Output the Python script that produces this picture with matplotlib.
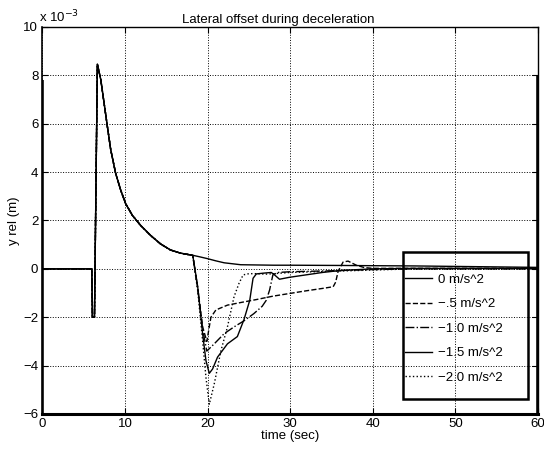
import numpy as np
import matplotlib
matplotlib.use("Agg")
import matplotlib.pyplot as plt
from matplotlib.patches import Rectangle

plt.rcParams['font.family'] = ['Liberation Sans', 'DejaVu Sans']

# Shared part of all runs (time in s, offset in 1e-3 m)
t_pre = [0, 5.98, 6.05, 6.3, 6.65, 7.06, 7.46, 7.86, 8.27, 8.87, 9.48, 10.08,
         10.89, 11.9, 13.1, 14.3, 15.5, 16.7, 17.5, 18.2]
y_pre = [0, 0, -2.0, -2.0, 8.46, 7.83, 6.86, 5.89, 4.92, 3.94, 3.25, 2.69,
         2.21, 1.79, 1.38, 1.03, 0.78, 0.65, 0.60, 0.56]

# 0 m/s^2
t_a0 = [19, 20, 21, 22, 24, 26, 28, 30, 36, 40, 45, 50, 55, 60]
y_a0 = [0.5, 0.42, 0.33, 0.25, 0.17, 0.16, 0.15, 0.15, 0.14, 0.13, 0.12, 0.10, 0.08, 0.06]

# -0.5 m/s^2
t_a05 = [18.8, 19.4, 19.9, 20.4, 21.0, 22.4, 24.2, 25.9, 27.9, 29.9, 31.9, 33.9,
         35.2, 35.5, 35.8, 36.4, 37.0, 38.0, 39.0, 40.0, 45, 50, 55, 60]
y_a05 = [-0.8, -2.4, -3.0, -2.0, -1.7, -1.5, -1.38, -1.27, -1.13, -1.02, -0.91, -0.81,
         -0.74, -0.55, -0.1, 0.28, 0.32, 0.15, 0.05, 0.02, 0.02, 0.02, 0.02, 0.02]

# -1.0 m/s^2
t_a10 = [18.8, 19.4, 19.9, 20.8, 22.0, 23.2, 24.4, 25.6, 26.6, 27.1, 27.5, 27.9,
         28.5, 30, 35, 40, 45, 50, 55, 60]
y_a10 = [-0.8, -2.5, -3.4, -3.1, -2.68, -2.4, -2.15, -1.85, -1.55, -1.3, -0.88, -0.25,
         -0.15, -0.12, -0.08, -0.03, 0.0, 0.0, 0.0, 0.0]

# -1.5 m/s^2
t_a15 = [18.8, 19.4, 19.8, 20.2, 20.6, 21.2, 22.4, 23.6, 24.4, 25.1, 25.5, 25.9,
         26.7, 27.7, 28.1, 28.7, 29.9, 31.9, 33.9, 36.0, 40.0, 45, 50, 55, 60]
y_a15 = [-0.74, -2.7, -3.8, -4.32, -4.14, -3.65, -3.1, -2.8, -2.1, -1.3, -0.39, -0.21,
         -0.18, -0.15, -0.25, -0.43, -0.35, -0.25, -0.15, -0.07, 0.0, 0.02, 0.02, 0.02, 0.02]

# -2.0 m/s^2
t_a20 = [18.8, 19.4, 19.8, 20.2, 20.8, 21.6, 22.4, 23.2, 23.8, 24.3, 25, 26, 27, 28,
         30, 35, 40, 45, 50, 55, 60]
y_a20 = [-0.9, -3.0, -4.5, -5.6, -4.76, -3.4, -2.4, -1.15, -0.6, -0.25, -0.2, -0.2,
         -0.22, -0.2, -0.15, -0.1, -0.05, 0, 0, 0, 0]

labels = ['0 m/s^2', '\u2212.5 m/s^2', '\u22121.0 m/s^2', '\u22121.5 m/s^2', '\u22122.0 m/s^2']
styles = ['-', '--', '-.', '-', ':']

# thick vertical marks at the plot edges
edge_t = [0, 60]
edge_top = [7.8, 8.0]

fig = plt.figure(figsize=(5.44, 4.49), dpi=100)
ax = fig.add_axes([0.078, 0.078, 0.911, 0.862])

series = [(t_a0, y_a0), (t_a05, y_a05), (t_a10, y_a10), (t_a15, y_a15), (t_a20, y_a20)]
handles = []
for (ts, ys), lab, ls in zip(series, labels, styles):
    tt = np.array(t_pre + ts)
    yy = np.array(y_pre + ys)
    h, = ax.plot(tt, yy, color='black', linestyle=ls, linewidth=1.0, label=lab)
    handles.append(h)

for et, etop in zip(edge_t, edge_top):
    ax.plot([et, et], [-6, etop], color='black', linewidth=2.6, solid_capstyle='butt')

ax.set_xlim(0, 60)
ax.set_ylim(-6, 10)
ax.set_xticks(np.arange(0, 61, 10))
ax.set_yticks(np.arange(-6, 11, 2))
ax.grid(True, linestyle=':', color='black', linewidth=0.7)
ax.tick_params(direction='in', top=True, right=True, length=4, labelsize=9.5, pad=3)
for s in ['top', 'right']:
    ax.spines[s].set_linewidth(1.0)
ax.spines['bottom'].set_linewidth(2.2)
ax.spines['left'].set_linewidth(1.2)

ax.set_title('Lateral offset during deceleration', fontsize=9.5, x=0.475, pad=3)
ax.set_xlabel('time (sec)', fontsize=9.5, labelpad=0)
ax.set_ylabel('y rel (m)', fontsize=9.5, labelpad=2)
ax.text(-0.007, 1.005, 'x 10$^{-3}$', transform=ax.transAxes, fontsize=9.5,
        ha='left', va='bottom')

leg = ax.legend(handles=handles, loc='upper left',
                bbox_to_anchor=(0.732, 0.363),
                borderaxespad=0, fontsize=9.5, frameon=False,
                labelspacing=0.93, handlelength=2.0, handletextpad=0.5,
                borderpad=0)
ax.add_patch(Rectangle((0.7275, 0.0388), 0.2525, 0.38, transform=ax.transAxes,
                       fill=False, edgecolor='black', linewidth=1.8, clip_on=False,
                       zorder=5))

fig.savefig('out.png', dpi=100)
